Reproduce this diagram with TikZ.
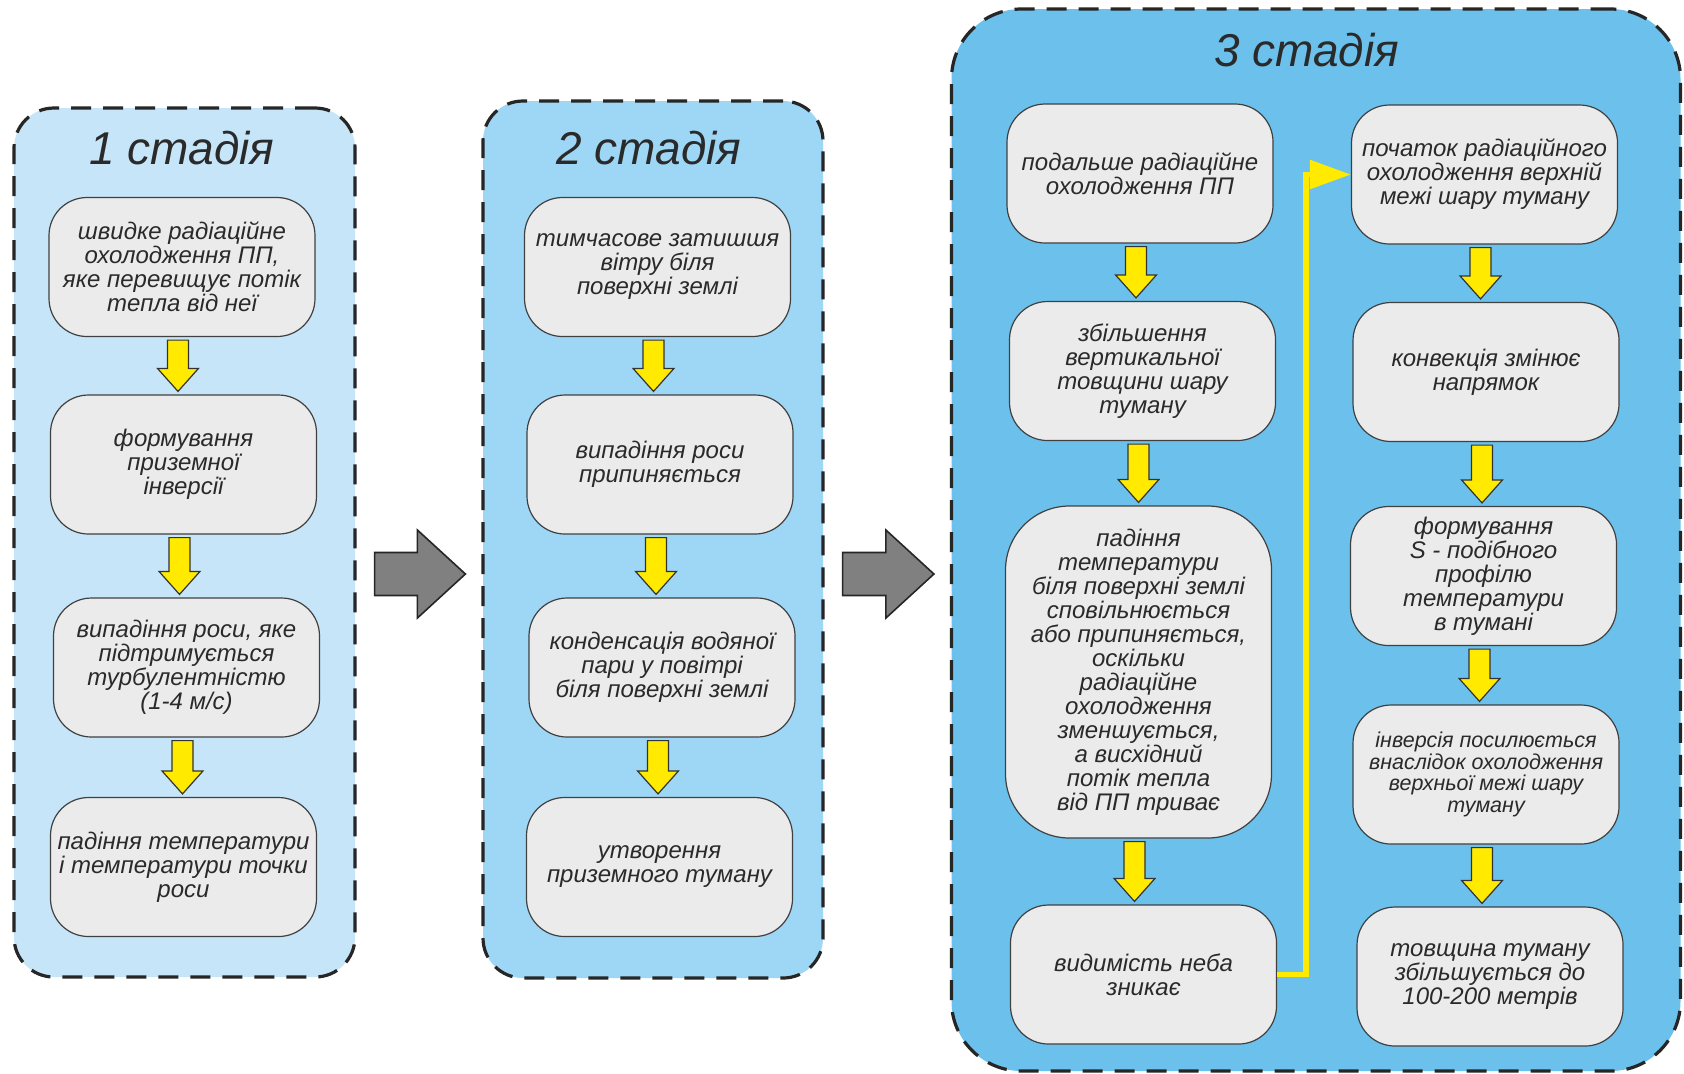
\documentclass[tikz,border=0pt]{standalone}
\usepackage{fontspec}
\setmainfont{Liberation Sans}
\usetikzlibrary{calc,arrows.meta}
\definecolor{pone}{HTML}{C6E5F8}
\definecolor{ptwo}{HTML}{9ED7F5}
\definecolor{pthree}{HTML}{6CC1EC}
\definecolor{boxfill}{HTML}{EBEBEB}
\definecolor{txt}{HTML}{2A2A2A}
\definecolor{yel}{HTML}{FFEA00}
\definecolor{garr}{HTML}{808080}
\tikzset{
 panel/.style={draw=black!85, line width=1.6pt, dash pattern=on 10pt off 6pt, rounded corners=20pt, inner sep=0pt},
 stagebox/.style={draw=black!75, fill=boxfill, line width=0.6pt, rounded corners=19pt, minimum width=133pt, minimum height=69.5pt, align=center, text=txt, font=\fontsize{12}{12}\selectfont\itshape, inner sep=1pt},
 stitle/.style={text=txt, font=\fontsize{23}{23}\selectfont\itshape, inner sep=0pt},
 yarrow/.style={fill=yel, draw=black!80, line width=0.6pt, line join=miter},
 garrow/.style={fill=garr, draw=black!85, line width=0.8pt, line join=miter},
 yline/.style={draw=yel, line width=2.75pt, -{Triangle[length=20.5pt,width=14pt]}},
}
\newcommand\yarr[2]{\path let \p1=($(#1.south)+(-4,3)$), \p2=($(#2.north)+(0,-3)$) in
  [yarrow] (\x1-5.25pt,\y1) -- (\x1+5.25pt,\y1) -- (\x1+5.25pt,\y2+11.5pt) -- (\x1+10.25pt,\y2+11.5pt)
  -- (\x1,\y2) -- (\x1-10.25pt,\y2+11.5pt) -- (\x1-5.25pt,\y2+11.5pt) -- cycle;}
\newcommand\garr[2]{\path let \p1=(#1.east), \p2=(#2.west), \p3=(0,574) in
  [garrow] (\x1+9pt,\y3+10.75pt) -- (\x2-32pt,\y3+10.75pt) -- (\x2-32pt,\y3+22pt) -- (\x2-8pt,\y3)
  -- (\x2-32pt,\y3-22pt) -- (\x2-32pt,\y3-10.75pt) -- (\x1+9pt,\y3-10.75pt) -- cycle;}
\begin{document}
\begin{tikzpicture}[x=0.5pt,y=-0.5pt]
\useasboundingbox[fill=white] (0,0) rectangle (1684,1073);
% panels
\node[panel, fill=pone, minimum width=170.5pt, minimum height=434.5pt] (p1) at (184.5,542.5) {};
\node[panel, fill=ptwo, minimum width=170pt, minimum height=438.5pt] (p2) at (653,539.5) {};
\node[panel, fill=pthree, rounded corners=35pt, minimum width=364.5pt, minimum height=531pt] (p3) at (1316,540) {};
% titles
\node[stitle] (t1) at (182,148) {1 стадія};
\node[stitle] (t2) at (649,148) {2 стадія};
\node[stitle] (t3) at (1306.5,50.5) {3 стадія};
% stage 1
\node[stagebox] (b11) at (182,267) {швидке радіаційне\\охолодження ПП,\\яке перевищує потік\\тепла від неї};
\node[stagebox] (b12) at (183.5,464.5) {формування\\приземної\\інверсії};
\node[stagebox] (b13) at (186.5,667.5) {випадіння роси, яке\\підтримується\\турбулентністю\\(1-4 м/с)};
\node[stagebox] (b14) at (183.5,867) {падіння температури\\і температури точки\\роси};
% stage 2
\node[stagebox] (b21) at (657.5,267) {тимчасове затишшя\\вітру біля\\поверхні землі};
\node[stagebox] (b22) at (660,464.5) {випадіння роси\\припиняється};
\node[stagebox] (b23) at (662,667.5) {конденсація водяної\\пари у повітрі\\біля поверхні землі};
\node[stagebox] (b24) at (659.5,867) {утворення\\приземного туману};
% stage 3 left
\node[stagebox] (b31) at (1140,173.5) {подальше радіаційне\\охолодження ПП};
\node[stagebox] (b32) at (1142.5,371) {збільшення\\вертикальної\\товщини шару\\туману};
\node[stagebox, minimum height=166pt, rounded corners=32pt] (b33) at (1138.5,672) {падіння\\температури\\біля поверхні землі\\сповільнюється\\або припиняється,\\оскільки\\радіаційне\\охолодження\\зменшується,\\а висхідний\\потік тепла\\від ПП триває};
\node[stagebox] (b34) at (1143.5,974.5) {видимість неба\\зникає};
% stage 3 right
\node[stagebox] (r31) at (1484.5,174.5) {початок радіаційного\\охолодження верхній\\межі шару туману};
\node[stagebox] (r32) at (1486,372) {конвекція змінює\\напрямок};
\node[stagebox] (r33) at (1483.5,576) {формування\\S - подібного\\профілю\\температури\\в тумані};
\node[stagebox, font=\fontsize{10.75}{10.75}\selectfont\itshape] (r34) at (1486,774.5) {інверсія посилюється\\внаслідок охолодження\\верхньої межі шару\\туману};
\node[stagebox] (r35) at (1490,976.5) {товщина туману\\збільшується до\\100-200 метрів};
% yellow block arrows
\yarr{b11}{b12}\yarr{b12}{b13}\yarr{b13}{b14}
\yarr{b21}{b22}\yarr{b22}{b23}\yarr{b23}{b24}
\yarr{b31}{b32}\yarr{b32}{b33}\yarr{b33}{b34}
\yarr{r31}{r32}\yarr{r32}{r33}\yarr{r33}{r34}\yarr{r34}{r35}
% gray arrows
\garr{p1}{p2}
\garr{p2}{p3}
% yellow connector
\draw[yline] (b34.east) -- ++(29,0) |- (r31.west);
\end{tikzpicture}
\end{document}
